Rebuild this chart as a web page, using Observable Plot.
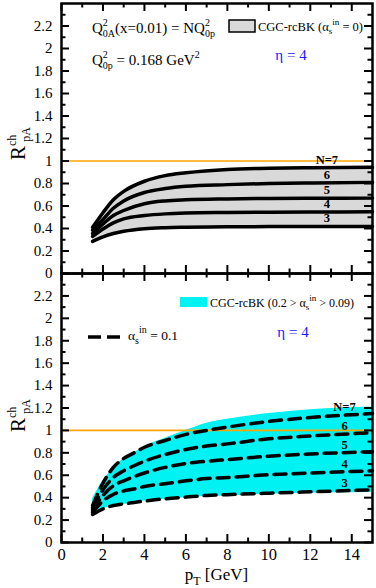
<!DOCTYPE html>
<html><head><meta charset="utf-8">
<script src="https://cdn.jsdelivr.net/npm/d3@7"></script>
<script src="https://cdn.jsdelivr.net/npm/@observablehq/plot@0.6"></script>
<style>
body{margin:0;background:#fff;}
#chart{width:376px;height:588px;position:relative;}
#chart svg{display:block;overflow:visible;}
#chart svg, #chart svg text, #chart svg g{font-family:"Liberation Serif","Times New Roman",serif !important;}
#chart text{white-space:pre;}
</style></head><body><div id="chart"></div>
<script>
// ---- tick values ----
const xTicks = [0, 2, 4, 6, 8, 10, 12, 14];
const xMinor = [1, 3, 5, 7, 9, 11, 13];
const yTicks = [0, 0.2, 0.4, 0.6, 0.8, 1, 1.2, 1.4, 1.6, 1.8, 2, 2.2];
const yMinor = [0.1, 0.3, 0.5, 0.7, 0.9, 1.1, 1.3, 1.5, 1.7, 1.9, 2.1, 2.3];
const seriesNames = ["3", "4", "5", "6", "N=7"];

// ---- top panel: CGC-rcBK (alpha_s^in = 0), N = 3..7 ----
const ptTop = [1.5, 2, 2.5, 3, 4, 5, 6, 8, 10, 12, 15];
const topN3 = [0.285, 0.325, 0.355, 0.375, 0.398, 0.407, 0.411, 0.415, 0.417, 0.418, 0.418];
const topN4 = [0.33, 0.395, 0.45, 0.485, 0.515, 0.53, 0.537, 0.542, 0.545, 0.547, 0.548];
const topN5 = [0.355, 0.44, 0.515, 0.56, 0.62, 0.645, 0.655, 0.663, 0.667, 0.668, 0.67];
const topN6 = [0.385, 0.48, 0.58, 0.645, 0.72, 0.755, 0.775, 0.79, 0.80, 0.805, 0.81];
const topN7 = [0.41, 0.54, 0.655, 0.73, 0.82, 0.87, 0.895, 0.925, 0.935, 0.94, 0.945];

// ---- bottom panel: band (0.2 > alpha_s^in > 0.09) and alpha_s^in = 0.1 ----
const ptBot = [1.5, 2, 2.5, 3, 3.5, 4, 5, 6, 7, 8, 10, 12, 15];
const bandLow = [0.235, 0.30, 0.32, 0.34, 0.357, 0.37, 0.385, 0.40, 0.41, 0.415, 0.43, 0.44, 0.446];
const bandHigh = [0.39, 0.55, 0.66, 0.75, 0.80, 0.855, 0.93, 1.0, 1.065, 1.10, 1.15, 1.185, 1.21];
const botN3 = [0.25, 0.30, 0.33, 0.345, 0.357, 0.37, 0.39, 0.405, 0.42, 0.427, 0.44, 0.452, 0.47];
const botN4 = [0.27, 0.37, 0.43, 0.46, 0.477, 0.50, 0.525, 0.55, 0.57, 0.58, 0.605, 0.62, 0.64];
const botN5 = [0.29, 0.42, 0.506, 0.55, 0.587, 0.62, 0.67, 0.705, 0.725, 0.74, 0.77, 0.79, 0.81];
const botN6 = [0.31, 0.47, 0.58, 0.64, 0.685, 0.725, 0.785, 0.83, 0.86, 0.88, 0.925, 0.95, 0.98];
const botN7 = [0.33, 0.53, 0.67, 0.75, 0.80, 0.85, 0.91, 0.965, 1.00, 1.03, 1.08, 1.115, 1.15];

const FONT = "Liberation Serif";
const fmt = d => String(+d.toFixed(1));

function rows(xs, ys) { return xs.map((x, i) => ({x, y: ys[i]})); }
function lerpAt(xs, ys, x) {
  for (let i = 1; i < xs.length; i++) if (x <= xs[i]) {
    const t = (x - xs[i-1]) / (xs[i] - xs[i-1]); return ys[i-1] + t * (ys[i] - ys[i-1]);
  }
  return ys[ys.length - 1];
}

function tickMarks(innerW, innerH) {
  const M = 8, m = 4.5, sw = 2;
  return [
    Plot.ruleX(xTicks, {x: d => d, insetTop: innerH - M, stroke: "black", strokeWidth: sw}),
    Plot.ruleX(xMinor, {x: d => d, insetTop: innerH - m, stroke: "black", strokeWidth: sw}),
    Plot.ruleX(xTicks, {x: d => d, insetBottom: innerH - M, stroke: "black", strokeWidth: sw}),
    Plot.ruleX(xMinor, {x: d => d, insetBottom: innerH - m, stroke: "black", strokeWidth: sw}),
    Plot.ruleY(yTicks, {y: d => d, insetRight: innerW - M, stroke: "black", strokeWidth: sw}),
    Plot.ruleY(yMinor, {y: d => d, insetRight: innerW - m, stroke: "black", strokeWidth: sw}),
    Plot.ruleY(yTicks, {y: d => d, insetLeft: innerW - M, stroke: "black", strokeWidth: sw}),
    Plot.ruleY(yMinor, {y: d => d, insetLeft: innerW - m, stroke: "black", strokeWidth: sw})
  ];
}

function rich(svg, x, y, parts, {size = 15, anchor = "start", fill = "black", rotate = 0} = {}) {
  const t = d3.select(svg).append("text")
    .attr("transform", `translate(${x},${y})` + (rotate ? ` rotate(${rotate})` : ""))
    .attr("font-family", FONT).attr("font-size", size).attr("fill", fill)
    .attr("text-anchor", anchor);
  for (const p of parts) {
    const [s, o] = Array.isArray(p) ? p : [p, {}];
    const ts = t.append("tspan").text(s);
    if (o.size) ts.attr("font-size", o.size);
    if (o.dx) ts.attr("dx", o.dx);
    if (o.dy) ts.attr("dy", o.dy);
  }
  return t;
}

const W = 376, ML = 61, MR = 4;
const innerW = W - ML - MR;

// ================= TOP PANEL =================
const topSeries = [topN3, topN4, topN5, topN6, topN7];
const topH = 274, topMT = 3, topMB = 1;
const topInnerH = topH - topMT - topMB;
const topLabelX = 12.8;
const topPlot = Plot.plot({
  width: W, height: topH,
  marginLeft: ML, marginRight: MR, marginTop: topMT, marginBottom: topMB,
  style: {fontFamily: FONT, fontSize: "14px", background: "transparent"},
  x: {domain: [0, 15], axis: null},
  y: {domain: [0, 2.4]},
  marks: [
    Plot.areaY(ptTop.map((x, i) => ({x, lo: topN3[i], hi: topN7[i]})),
      {x: "x", y1: "lo", y2: "hi", fill: "#d9d9d9", curve: "monotone-x"}),
    Plot.ruleY([1], {stroke: "#ffa500", strokeWidth: 1.6}),
    ...topSeries.map(s => Plot.line(rows(ptTop, s), {x: "x", y: "y", stroke: "black", strokeWidth: 3.5, curve: "monotone-x"})),
    Plot.text(seriesNames.map((n, i) => ({n, x: topLabelX, y: lerpAt(ptTop, topSeries[i], topLabelX)})),
      {x: "x", y: "y", text: "n", dy: -8, fontSize: 12.5, fontWeight: "bold", fill: "black"}),
    Plot.frame({stroke: "black", strokeWidth: 2.5}),
    ...tickMarks(innerW, topInnerH),
    Plot.axisY({ticks: yTicks, tickSize: 0, tickPadding: 9, tickFormat: fmt, label: null, fontSize: 15})
  ]
});

// ================= BOTTOM PANEL =================
const botSeries = [botN3, botN4, botN5, botN6, botN7];
const botTop = 272;
const botH = 588 - botTop, botMT = 1, botMB = 46;
const botInnerH = botH - botMT - botMB;
const botLabelX = 13.65;
const botPlot = Plot.plot({
  width: W, height: botH,
  marginLeft: ML, marginRight: MR, marginTop: botMT, marginBottom: botMB,
  style: {fontFamily: FONT, fontSize: "14px", background: "transparent"},
  x: {domain: [0, 15]},
  y: {domain: [0, 2.4]},
  marks: [
    Plot.areaY(ptBot.map((x, i) => ({x, lo: bandLow[i], hi: bandHigh[i]})),
      {x: "x", y1: "lo", y2: "hi", fill: "#00f2f2", curve: "monotone-x"}),
    Plot.ruleY([1], {stroke: "#ffa500", strokeWidth: 1.6}),
    ...botSeries.map(s => Plot.line(rows(ptBot, s), {x: "x", y: "y", stroke: "black", strokeWidth: 3.5, strokeDasharray: "12,7", curve: "monotone-x"})),
    Plot.text(seriesNames.map((n, i) => ({n, x: botLabelX, y: lerpAt(ptBot, botSeries[i], botLabelX)})),
      {x: "x", y: "y", text: "n", dy: -8, fontSize: 12.5, fontWeight: "bold", fill: "black"}),
    Plot.frame({stroke: "black", strokeWidth: 2.5}),
    ...tickMarks(innerW, botInnerH),
    Plot.axisY({ticks: yTicks, tickSize: 0, tickPadding: 9, tickFormat: fmt, label: null, fontSize: 15}),
    Plot.axisX({ticks: xTicks, tickSize: 0, tickPadding: 6, tickFormat: d => String(d), label: null, fontSize: 16.5})
  ]
});
botPlot.style.marginTop = "-2px";

const chart = document.getElementById("chart");
chart.append(topPlot, botPlot);

// ---- annotations, top panel ----
const sup = {size: 10, dy: -7}, sub = (dx) => ({size: 10, dx, dy: 11});
rich(topPlot, 92, 33, ["Q", ["2", sup], ["0A", sub(-5)], ["(x=0.01) = NQ", {dy: -4}], ["2", sup], ["0p", sub(-5)]], {size: 15});
rich(topPlot, 92, 65, ["Q", ["2", sup], ["0p", sub(-5)], [" = 0.168 GeV", {dy: -4}], ["2", sup]], {size: 15});
d3.select(topPlot).append("rect").attr("x", 229).attr("y", 20).attr("width", 26).attr("height", 12)
  .attr("fill", "#d9d9d9").attr("stroke", "black").attr("stroke-width", 1.5);
rich(topPlot, 258, 31, ["CGC-rcBK (α", ["s", {size: 9, dy: 3}], ["in", {size: 9, dy: -9}], [" = 0)", {dy: 6}]], {size: 12.5});
rich(topPlot, 291, 60, ["η = 4"], {size: 15, anchor: "middle", fill: "#1a1aff"});
rich(topPlot, 25, 160, ["R", ["ch", {size: 12, dy: -9}], ["pA", {size: 12, dx: -7, dy: 14}]], {size: 21, rotate: -90});

// ---- annotations, bottom panel ----
const oy = botTop;
d3.select(botPlot).append("rect").attr("x", 180).attr("y", 297 - oy).attr("width", 27).attr("height", 10)
  .attr("fill", "#00f2f2");
rich(botPlot, 210, 307 - oy, ["CGC-rcBK (0.2 > α", ["s", {size: 9, dy: 3}], ["in", {size: 9, dy: -9}], [" > 0.09)", {dy: 6}]], {size: 12});
d3.select(botPlot).append("line").attr("x1", 88).attr("x2", 120).attr("y1", 337 - oy).attr("y2", 337 - oy)
  .attr("stroke", "black").attr("stroke-width", 3.5).attr("stroke-dasharray", "13,6");
rich(botPlot, 128, 340 - oy, ["α", ["s", {size: 10, dy: 4}], ["in", {size: 10, dy: -11}], [" = 0.1", {dy: 7}]], {size: 13.5});
rich(botPlot, 293, 337 - oy, ["η = 4"], {size: 15, anchor: "middle", fill: "#1a1aff"});
rich(botPlot, 25, 432 - oy, ["R", ["ch", {size: 12, dy: -9}], ["pA", {size: 12, dx: -7, dy: 14}]], {size: 21, rotate: -90});
rich(botPlot, 216.5, 580 - oy, ["p", ["T", {size: 12, dy: 5}], [" [GeV]", {dy: -5}]], {size: 17, anchor: "middle"});
</script></body></html>
